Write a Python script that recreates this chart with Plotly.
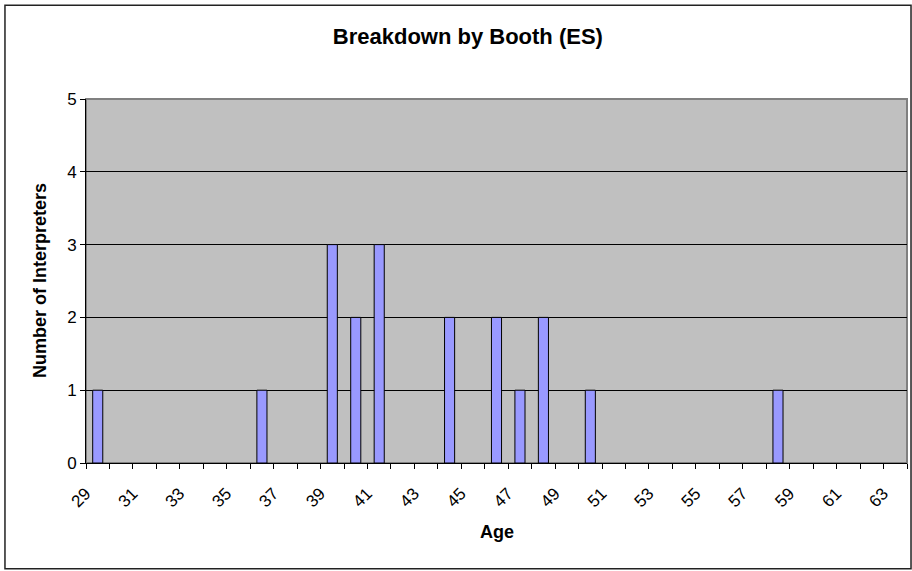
import plotly.graph_objects as go

# Age categories shown on the axis (29..63) and interpreter counts per age
AGES = list(range(29, 64))
COUNT_BY_AGE = {29: 1, 36: 1, 39: 3, 40: 2, 41: 3, 44: 2, 46: 2, 47: 1, 48: 2, 50: 1, 58: 1}
bar_ages = [a for a in AGES if a in COUNT_BY_AGE]
bar_counts = [COUNT_BY_AGE[a] for a in bar_ages]

# odd ages get a label, even ages only a tick
tick_vals = [str(a) for a in AGES]
tick_text = [str(a) if a % 2 == 1 else "" for a in AGES]

FONT = "Liberation Sans, Arial, sans-serif"

fig = go.Figure()
fig.add_trace(go.Bar(
    x=[str(a) for a in bar_ages],
    y=bar_counts,
    marker=dict(color="#9999FF", line=dict(color="#000000", width=1)),
    hoverinfo="x+y",
    showlegend=False,
))

fig.update_layout(
    width=912, height=571,
    margin=dict(l=86, r=5, t=99, b=108),
    paper_bgcolor="#FFFFFF",
    plot_bgcolor="#C0C0C0",
    bargap=0.57,
    font=dict(family=FONT, color="#000000", size=16),
    title=dict(
        text="<b>Breakdown by Booth (ES)</b>",
        x=0.513, y=0.937, xanchor="center", yanchor="middle",
        font=dict(family=FONT, size=22, color="#000000"),
    ),
    xaxis=dict(
        type="category",
        categoryorder="array", categoryarray=tick_vals,
        range=[-0.5, len(AGES) - 0.5],
        tickmode="array", tickvals=tick_vals, ticktext=tick_text,
        tickson="boundaries", ticks="outside", ticklen=5, tickcolor="#000000",
        tickangle=-45, tickfont=dict(size=17),
        ticklabelshift=-12, ticklabelstandoff=13,
        showline=True, linecolor="#000000", linewidth=1,
        showgrid=False, zeroline=False, fixedrange=True,
    ),
    yaxis=dict(
        range=[0, 5], tickmode="array", tickvals=[0, 1, 2, 3, 4, 5],
        ticks="outside", ticklen=5, tickcolor="#000000",
        tickfont=dict(size=17),
        showline=True, linecolor="#000000", linewidth=1,
        showgrid=True, gridcolor="#000000", gridwidth=1,
        zeroline=False, fixedrange=True,
    ),
    annotations=[
        dict(text="<b>Number of Interpreters</b>", textangle=-90,
             xref="paper", yref="paper", x=-0.056, y=0.5,
             xanchor="center", yanchor="middle", showarrow=False,
             font=dict(family=FONT, size=18)),
        dict(text="<b>Age</b>",
             xref="paper", yref="paper", x=0.5, y=-0.189,
             xanchor="center", yanchor="middle", showarrow=False,
             font=dict(family=FONT, size=18)),
    ],
    shapes=[
        # gray plot-area border (top/right)
        dict(type="rect", xref="paper", yref="paper", x0=0, y0=0, x1=1, y1=1,
             line=dict(color="#808080", width=2), layer="below"),
        # outer chart frame
        dict(type="rect", xref="paper", yref="paper",
             x0=-0.0987, y0=-0.2904, x1=1.0049, y1=1.2575,
             line=dict(color="#222222", width=1.5)),
    ],
)

# drop the browser's default 8px body margin so the figure sits at the page origin
fig.write_html("out.html", config={"displayModeBar": False},
               post_script="document.body.style.margin='0px';")
